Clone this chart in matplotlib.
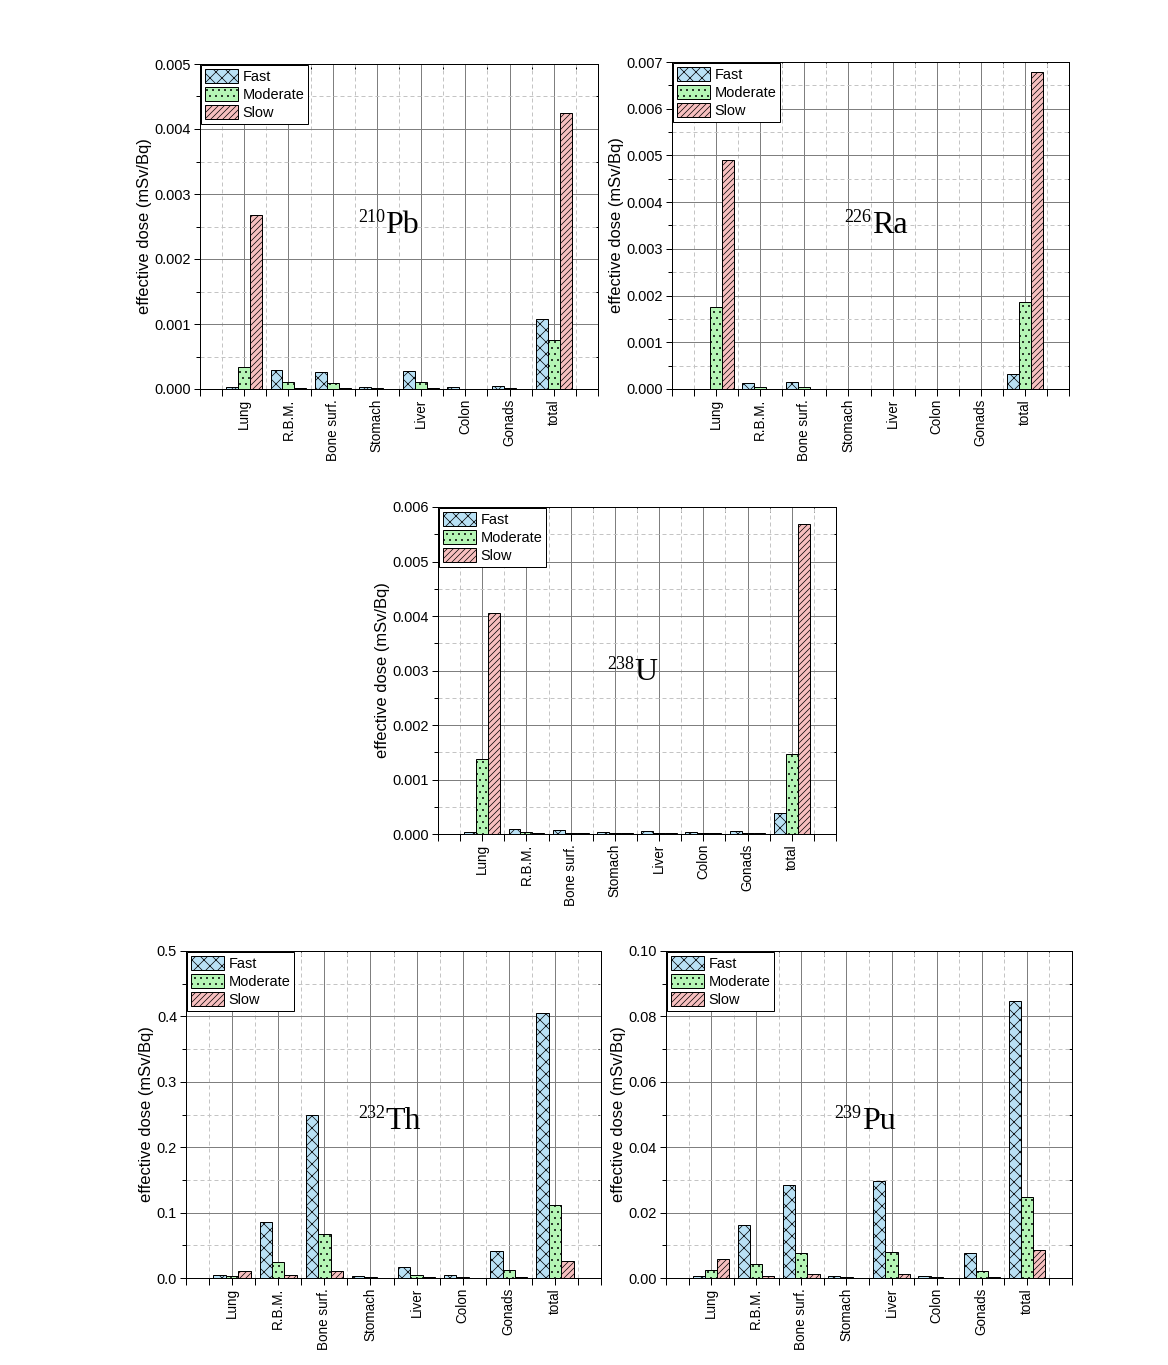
import matplotlib
matplotlib.use('Agg')
import matplotlib.pyplot as plt
from matplotlib.ticker import MultipleLocator, FormatStrFormatter, FixedLocator
import numpy as np

plt.rcParams['font.family'] = ['Liberation Sans', 'DejaVu Sans']
plt.rcParams['hatch.linewidth'] = 0.7
plt.rcParams['hatch.color'] = 'black'

organs = ['Lung', 'R.B.M.', 'Bone surf.', 'Stomach', 'Liver', 'Colon', 'Gonads', 'total']
series_names = ['Fast', 'Moderate', 'Slow']

# 210Pb
pb_fast = [0.00003, 0.00029, 0.00026, 0.00003, 0.00028, 0.00003, 0.000045, 0.00108]
pb_moderate = [0.00034, 0.00011, 0.00010, 0.00001, 0.00011, 0.000005, 0.00002, 0.00075]
pb_slow = [0.00267, 0.00002, 0.00001, 0.0, 0.00002, 0.0, 0.0, 0.00424]

# 226Ra
ra_fast = [0.0, 0.00013, 0.00015, 0.0, 0.0, 0.0, 0.0, 0.00033]
ra_moderate = [0.00175, 0.00004, 0.00004, 0.0, 0.0, 0.0, 0.0, 0.00186]
ra_slow = [0.00491, 0.0, 0.0, 0.0, 0.0, 0.0, 0.0, 0.00679]

# 238U
u_fast = [0.00004, 0.00009, 0.00007, 0.00004, 0.00005, 0.00004, 0.00005, 0.00038]
u_moderate = [0.00137, 0.00004, 0.00002, 0.00002, 0.00002, 0.00002, 0.00002, 0.00147]
u_slow = [0.00405, 0.00002, 0.00002, 0.00002, 0.00002, 0.00002, 0.00002, 0.00568]

# 232Th
th_fast = [0.0046, 0.0855, 0.2487, 0.0030, 0.0168, 0.0046, 0.0412, 0.4059]
th_moderate = [0.0030, 0.0244, 0.0671, 0.0015, 0.0046, 0.0015, 0.0122, 0.1114]
th_slow = [0.0107, 0.0046, 0.0107, 0.0, 0.0015, 0.0, 0.0015, 0.0259]

# 239Pu
pu_fast = [0.0006, 0.0162, 0.0284, 0.0006, 0.0297, 0.0006, 0.0076, 0.0848]
pu_moderate = [0.0024, 0.0043, 0.0076, 0.0003, 0.0079, 0.0003, 0.0021, 0.0247]
pu_slow = [0.0058, 0.0006, 0.0012, 0.0, 0.0012, 0.0, 0.0003, 0.0085]

fill_colors = ['#b9e1f5', '#b5f5b5', '#f7c0c0']
hatches = ['xx', '..', '////']

W, H = 1168, 1365
fig = plt.figure(figsize=(W / 72, H / 72), dpi=72)


def px_axes(left, top, right, bottom):
    return fig.add_axes([left / W, 1 - bottom / H, (right - left) / W, (bottom - top) / H])


panels = [
    dict(rect=(200, 64, 598, 389), data=(pb_fast, pb_moderate, pb_slow), ymax=0.005,
         major=0.001, minor=0.0005, fmt='%.3f', sup='210', elem='Pb', pos=(0.465, 0.48)),
    dict(rect=(672, 62, 1069, 389), data=(ra_fast, ra_moderate, ra_slow), ymax=0.007,
         major=0.001, minor=0.0005, fmt='%.3f', sup='226', elem='Ra', pos=(0.503, 0.477)),
    dict(rect=(438, 507, 836, 834), data=(u_fast, u_moderate, u_slow), ymax=0.006,
         major=0.001, minor=0.0005, fmt='%.3f', sup='238', elem='U', pos=(0.4925, 0.471)),
    dict(rect=(186, 951, 601, 1278), data=(th_fast, th_moderate, th_slow), ymax=0.5,
         major=0.1, minor=0.05, fmt='%.1f', sup='232', elem='Th', pos=(0.4795, 0.456)),
    dict(rect=(666, 951, 1072, 1278), data=(pu_fast, pu_moderate, pu_slow), ymax=0.10,
         major=0.02, minor=0.01, fmt='%.2f', sup='239', elem='Pu', pos=(0.482, 0.456)),
]

x = np.arange(1, len(organs) + 1)
bw = 0.27
half_ticks = np.arange(0, 9.01, 0.5)
half_only = [t for t in half_ticks if abs(t - round(t)) > 0.1 or t in (0, 9)]

for p in panels:
    ax = px_axes(*p['rect'])
    ax.set_axisbelow(True)
    handles = []
    for i, vals in enumerate(p['data']):
        b = ax.bar(x + (i - 1) * bw, vals, width=bw, color=fill_colors[i], edgecolor='black',
                   linewidth=1.0, hatch=hatches[i], zorder=3, label=series_names[i])
        handles.append(b)
    ax.set_xlim(0, 9)
    ax.set_ylim(0, p['ymax'])
    ax.xaxis.set_major_locator(FixedLocator(x))
    ax.xaxis.set_minor_locator(FixedLocator(half_only))
    ax.set_xticklabels(organs, rotation=90, fontsize=13.5)
    ax.yaxis.set_major_locator(MultipleLocator(p['major']))
    ax.yaxis.set_minor_locator(MultipleLocator(p['minor']))
    ax.yaxis.set_major_formatter(FormatStrFormatter(p['fmt']))
    ax.tick_params(axis='y', which='major', direction='out', length=6, width=1, labelsize=14.5, pad=3)
    ax.tick_params(axis='y', which='minor', direction='out', length=4, width=1)
    ax.tick_params(axis='x', which='both', direction='out', length=7, width=1, pad=3)
    ax.grid(True, which='major', axis='both', color='#7f7f7f', linewidth=1.0, linestyle='-')
    ax.grid(True, which='minor', axis='both', color='#c4c4c4', linewidth=1.0, linestyle=(0, (4, 3)))
    for s in ax.spines.values():
        s.set_linewidth(1.0)
        s.set_color('black')
    ax.set_ylabel('effective dose (mSv/Bq)', fontsize=16.5, labelpad=3)

    sec_y = ax.secondary_yaxis('right')
    sec_y.yaxis.set_major_locator(MultipleLocator(p['major']))
    sec_y.yaxis.set_minor_locator(MultipleLocator(p['minor']))
    sec_y.tick_params(axis='y', which='major', direction='in', length=5, width=1, labelright=False)
    sec_y.tick_params(axis='y', which='minor', direction='in', length=3, width=1)
    sec_x = ax.secondary_xaxis('top')
    sec_x.xaxis.set_major_locator(FixedLocator(half_ticks))
    sec_x.tick_params(axis='x', which='major', direction='in', length=5, width=1, labeltop=False)

    leg = ax.legend(handles=handles, loc='upper left', bbox_to_anchor=(0, 1), borderaxespad=0.1,
                    fontsize=14.5, handlelength=2.3, handleheight=1.15, labelspacing=0.2,
                    handletextpad=0.3, borderpad=0.25, fancybox=False, framealpha=1,
                    edgecolor='black')
    leg.get_frame().set_linewidth(1.0)
    leg.set_zorder(5)

    jx, jy = p['pos']
    ax.annotate(p['sup'], xy=(jx, jy), xycoords='axes fraction', xytext=(0, 11),
                textcoords='offset points', ha='right', va='baseline', fontsize=18,
                family='Liberation Serif', zorder=6)
    ax.text(jx, jy, p['elem'], transform=ax.transAxes, ha='left', va='baseline',
            fontsize=32, family='Liberation Serif', zorder=6)

fig.savefig('out.png', dpi=72)
